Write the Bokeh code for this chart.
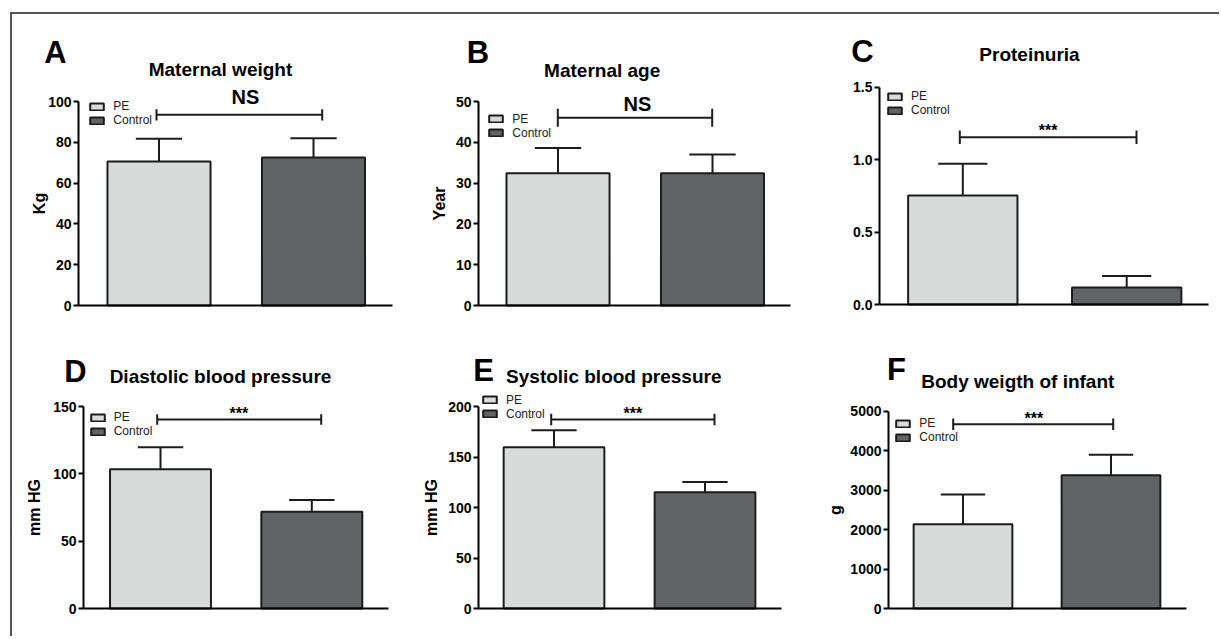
from bokeh.plotting import figure
from bokeh.models import Range1d, Label, Legend, LegendItem, FixedTicker, NumeralTickFormatter
from bokeh.layouts import row, column
from bokeh.embed import file_html
from bokeh.resources import INLINE

# ---------------- data ----------------
groups = ["PE", "Control"]
letters = ["A", "B", "C", "D", "E", "F"]
titles = ["Maternal weight", "Maternal age", "Proteinuria",
          "Diastolic blood pressure", "Systolic blood pressure", "Body weigth of infant"]
ylabels = ["Kg", "Year", "", "mm HG", "mm HG", "g"]
mean_pe = [70.6, 32.4, 0.753, 103.4, 159.7, 2133]
sd_pe = [11.1, 6.2, 0.219, 16.3, 16.8, 758]
mean_ctrl = [72.5, 32.4, 0.117, 71.9, 115.0, 3380]
sd_ctrl = [9.5, 4.6, 0.080, 8.7, 10.3, 515]
significance = ["NS", "NS", "***", "***", "***", "***"]
y_max = [100, 50, 1.5, 150, 200, 5000]
y_ticks = [[0, 20, 40, 60, 80, 100], [0, 10, 20, 30, 40, 50], [0, 0.5, 1.0, 1.5],
           [0, 50, 100, 150], [0, 50, 100, 150, 200], [0, 1000, 2000, 3000, 4000, 5000]]
tick_formats = ["0", "0", "0.0", "0", "0", "0"]

# ---------------- layout (page pixels) ----------------
canvas = [(12, 14, 388, 306), (400, 14, 400, 306), (800, 14, 419, 306),
          (12, 320, 388, 316), (400, 320, 400, 316), (800, 320, 419, 316)]
axis_x = [78, 478, 879, 83, 478, 888]
axis_end = [392, 790, 1208, 388, 781, 1186]
bar_c1 = [158.5, 557.5, 962.3, 160, 553.5, 962.5]
bar_c2 = [313, 712, 1126.2, 311.3, 704.5, 1110.5]
y0_px = [305, 305, 304, 608, 608, 608]
ytop_px = [101, 101, 86.7, 406, 406, 410.7]
# text positions: (center x, baseline y)
letter_pos = [(55, 63), (477.5, 63), (862, 61.7), (75, 381.7), (483, 381), (896, 380)]
title_pos = [(220, 76), (601.7, 76.7), (1029, 60.7), (220, 382.7), (613.3, 382.7), (1017.3, 387.7)]
sig_pos = [(245, 104), (637, 110.7), (1047.7, 136), (238.3, 418.5), (632.3, 418.5), (1033.3, 423.5)]
bracket = [(156, 321.7, 114.3, 5.6), (557.3, 711.7, 117.3, 9), (959.3, 1136, 136.7, 6.7),
           (156.7, 320.7, 419, 5.3), (550.7, 714, 419, 5.8), (952.7, 1112.7, 423.7, 5.7)]
legend_pos = [(88.3, 120), (487.3, 132.8), (886, 110), (88.7, 431), (481, 413.8), (894.3, 437)]
label_standoff = [-3, 5, 0, 7, 5, 3]

FONT = "Liberation Sans"
PE_COLOR = "#d9dbdb"
CTRL_COLOR = "#626365"
EDGE = "#1c1c1c"
BAR_W = 0.667
CAP_W = 0.3
LETTER_SIZE = 31
TITLE_SIZE = 19
NS_SIZE = 20
STAR_SIZE = 16
BASELINE_FIX = 0.36  # renderer places text lower than the alphabetic baseline by ~this many em


def make_panel(i):
    cx, cy, cw, ch = canvas[i]
    c1, c2 = bar_c1[i], bar_c2[i]
    u = c2 - c1
    scale = (y0_px[i] - ytop_px[i]) / y_max[i]

    def X(px):
        return 1 + (px - c1) / u

    def Y(py):
        return (y0_px[i] - py) / scale

    def add_text(pos, text, size):
        tx, ty = pos
        p.add_layout(Label(x=X(tx), y=Y(ty - BASELINE_FIX * size), text=text, text_align="center",
                           text_baseline="alphabetic", text_font=FONT, text_font_style="bold",
                           text_font_size=f"{size}px", text_color="black"))

    p = figure(width=cw, height=ch, output_backend="svg", toolbar_location=None,
               x_range=Range1d(X(cx), X(cx + cw)),
               y_range=Range1d(Y(cy + ch), Y(cy)),
               min_border=0)
    p.outline_line_color = None
    p.xgrid.visible = False
    p.ygrid.visible = False
    p.background_fill_color = "white"

    # bars
    r_pe = p.vbar(x=[1], top=[mean_pe[i]], bottom=0, width=BAR_W, fill_color=PE_COLOR,
                  line_color=EDGE, line_width=2)
    r_ct = p.vbar(x=[2], top=[mean_ctrl[i]], bottom=0, width=BAR_W, fill_color=CTRL_COLOR,
                  line_color=EDGE, line_width=2)
    # error bars (upper only)
    xs = [1, 2]
    means = [mean_pe[i], mean_ctrl[i]]
    tops = [mean_pe[i] + sd_pe[i], mean_ctrl[i] + sd_ctrl[i]]
    p.segment(x0=xs, y0=means, x1=xs, y1=tops, line_color=EDGE, line_width=2)
    p.segment(x0=[x - CAP_W / 2 for x in xs], y0=tops, x1=[x + CAP_W / 2 for x in xs], y1=tops,
              line_color=EDGE, line_width=2)

    # significance bracket
    bx1, bx2, by, bh = bracket[i]
    p.segment(x0=[X(bx1)], y0=[Y(by)], x1=[X(bx2)], y1=[Y(by)], line_color=EDGE, line_width=2)
    p.segment(x0=[X(bx1), X(bx2)], y0=[Y(by - bh)] * 2, x1=[X(bx1), X(bx2)], y1=[Y(by + bh)] * 2,
              line_color=EDGE, line_width=2)
    is_ns = significance[i] == "NS"
    add_text(sig_pos[i], significance[i], NS_SIZE if is_ns else STAR_SIZE)

    # letter & title
    add_text(letter_pos[i], letters[i], LETTER_SIZE)
    add_text(title_pos[i], titles[i], TITLE_SIZE)

    # axes (fixed inside the canvas-wide frame)
    ya = p.yaxis[0]
    ya.fixed_location = X(axis_x[i])
    ya.ticker = FixedTicker(ticks=y_ticks[i])
    ya.formatter = NumeralTickFormatter(format=tick_formats[i])
    ya.bounds = (0, y_max[i])
    ya.axis_line_width = 2
    ya.axis_line_color = "black"
    ya.major_tick_line_width = 2
    ya.major_tick_line_color = "black"
    ya.major_tick_out = 5
    ya.major_tick_in = 0
    ya.minor_tick_line_color = None
    ya.major_label_text_font = FONT
    ya.major_label_text_font_style = "bold"
    ya.major_label_text_font_size = "14px"
    ya.major_label_text_color = "black"
    ya.major_label_standoff = 2
    if ylabels[i]:
        ya.axis_label = ylabels[i]
        ya.axis_label_text_font = FONT
        ya.axis_label_text_font_style = "bold"
        ya.axis_label_text_font_size = "16px"
        ya.axis_label_text_color = "black"
        ya.axis_label_standoff = label_standoff[i]

    xa = p.xaxis[0]
    xa.fixed_location = 0
    xa.bounds = (X(axis_x[i]), X(axis_end[i]))
    xa.ticker = FixedTicker(ticks=[])
    xa.axis_line_width = 2
    xa.axis_line_color = "black"
    xa.major_tick_line_color = None
    xa.minor_tick_line_color = None
    xa.major_label_text_font_size = "0px"

    # legend
    gx, gy = legend_pos[i]
    leg = Legend(items=[LegendItem(label=groups[0], renderers=[r_pe]),
                        LegendItem(label=groups[1], renderers=[r_ct])],
                 location=(gx - cx, (cy + ch) - (gy + 7)),
                 glyph_width=17, glyph_height=9, label_height=12, label_standoff=8,
                 spacing=0, padding=0, margin=0,
                 label_text_font=FONT, label_text_font_size="12px", label_text_color="#222222",
                 border_line_color=None, background_fill_alpha=0)
    p.add_layout(leg)
    return p


panels = [make_panel(i) for i in range(6)]
layout = column(row(*panels[:3]), row(*panels[3:]),
                styles={"border-top": "2px solid #555555", "border-left": "2px solid #555555",
                        "margin-left": "10px", "margin-top": "12px"})

with open("out.html", "w") as f:
    f.write(file_html(layout, INLINE))
